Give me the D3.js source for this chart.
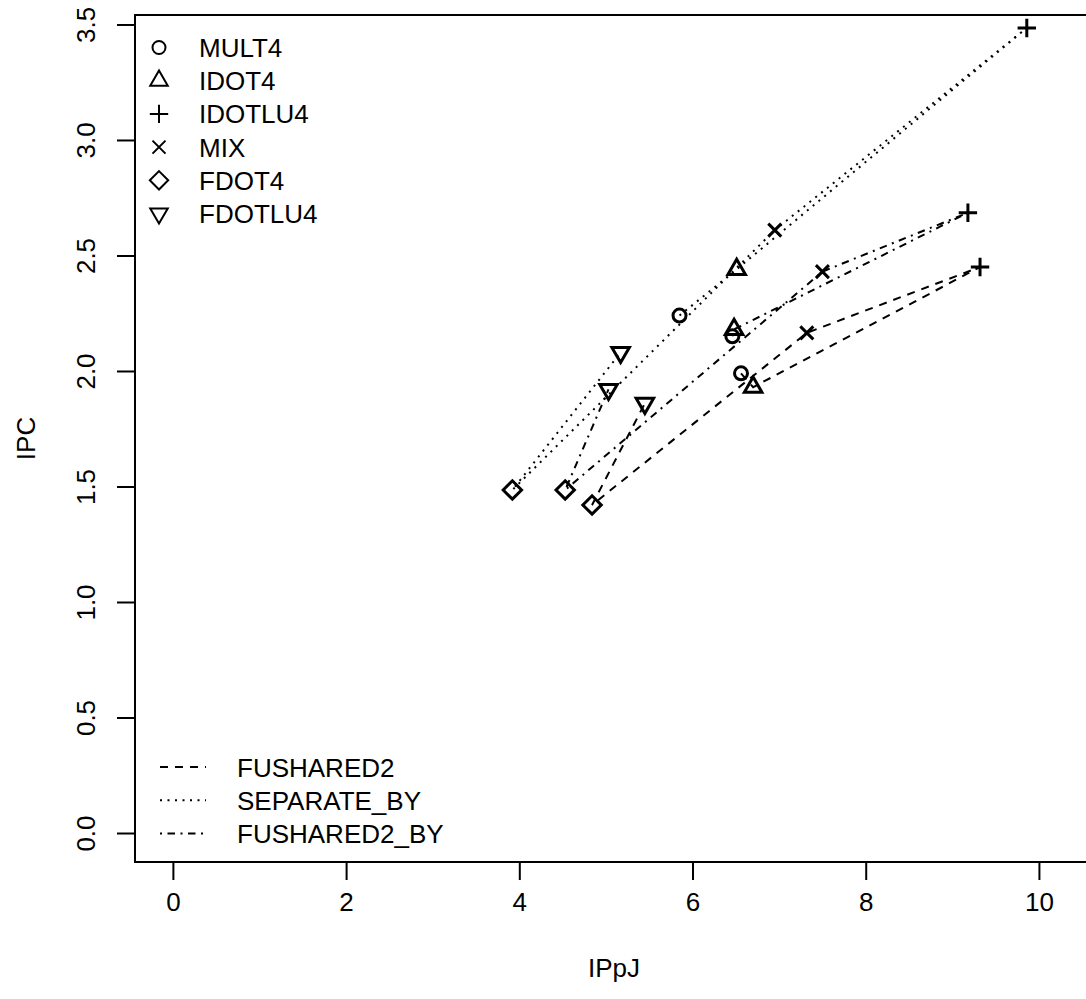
<!DOCTYPE html>
<html>
<head>
<meta charset="utf-8">
<script src="https://cdn.jsdelivr.net/npm/d3@7"></script>
<style>
  html, body { margin: 0; padding: 0; background: #fff; }
  svg text { font-family: "Liberation Sans", Arial, Helvetica, sans-serif; fill: #000; }
</style>
</head>
<body>
<div id="chart"></div>
<script>
// benchmarks (point symbols) and configurations (line types)
const benchmarks = ["MULT4", "IDOT4", "IDOTLU4", "MIX", "FDOT4", "FDOTLU4"];
const configs = ["FUSHARED2", "SEPARATE_BY", "FUSHARED2_BY"];

// values per config, in benchmark order
const ippjFushared2 = [6.56, 6.70, 9.32, 7.32, 4.84, 5.45];
const ipcFushared2 = [1.99, 1.93, 2.45, 2.165, 1.42, 1.86];
const ippjSeparateBy = [5.85, 6.51, 9.86, 6.95, 3.92, 5.17];
const ipcSeparateBy = [2.24, 2.44, 3.485, 2.61, 1.485, 2.08];
const ippjFushared2By = [6.46, 6.48, 9.18, 7.50, 4.53, 5.03];
const ipcFushared2By = [2.15, 2.18, 2.685, 2.43, 1.485, 1.92];

const xTicks = [0, 2, 4, 6, 8, 10];
const yTicks = [0, 0.5, 1.0, 1.5, 2.0, 2.5, 3.0, 3.5];

const width = 1086, height = 999;
const box = { left: 135, top: 15, right: 1094, bottom: 862 };

const series = [
  { name: configs[0], x: ippjFushared2, y: ipcFushared2, dash: "8,7" },
  { name: configs[1], x: ippjSeparateBy, y: ipcSeparateBy, dash: "2,5.5" },
  { name: configs[2], x: ippjFushared2By, y: ipcFushared2By, dash: "2,5.5,7.5,5.5" }
];

const xScale = d3.scaleLinear().domain([-0.4375, 10.636]).range([box.left, box.right]);
const yScale = d3.scaleLinear().domain([-0.1255, 3.541]).range([box.bottom, box.top]);

const svg = d3.select("#chart")
  .append("svg")
  .attr("width", width)
  .attr("height", height);

// R style point symbols (pch 1..6)
const R0 = 6.5;
function symbolPath(i) {
  const t1 = 1.347 * R0, t2 = 0.777 * R0, t0 = 1.555 * R0, s = Math.SQRT2 * R0;
  switch (i) {
    case 0: return d3.arc()({ innerRadius: 0, outerRadius: R0, startAngle: 0, endAngle: 2 * Math.PI });
    case 1: return `M0,${-t0}L${t1},${t2}L${-t1},${t2}Z`;
    case 2: return `M${-s},0L${s},0M0,${-s}L0,${s}`;
    case 3: return `M${-R0},${-R0}L${R0},${R0}M${-R0},${R0}L${R0},${-R0}`;
    case 4: return `M0,${-s}L${s},0L0,${s}L${-s},0Z`;
    case 5: return `M0,${t0}L${t1},${-t2}L${-t1},${-t2}Z`;
  }
}

// plot box
svg.append("rect")
  .attr("x", box.left)
  .attr("y", box.top)
  .attr("width", box.right - box.left)
  .attr("height", box.bottom - box.top)
  .attr("fill", "none")
  .attr("stroke", "#000")
  .attr("stroke-width", 2);

// x axis
const xAxis = svg.append("g")
  .attr("transform", `translate(0,${box.bottom})`)
  .call(d3.axisBottom(xScale).tickValues(xTicks).tickSize(18).tickPadding(13).tickFormat(d3.format("d")));
xAxis.select(".domain").attr("d", `M${xScale(0)},0H${xScale(10)}`).attr("stroke-width", 2);
xAxis.selectAll(".tick line").attr("stroke-width", 2);
xAxis.selectAll(".tick text").attr("font-size", 26).attr("dy", "0.71em");

// y axis
const yAxis = svg.append("g")
  .attr("transform", `translate(${box.left},0)`)
  .call(d3.axisLeft(yScale).tickValues(yTicks).tickSize(18).tickFormat(d3.format(".1f")));
yAxis.select(".domain").attr("d", `M0,${yScale(0)}V${yScale(3.5)}`).attr("stroke-width", 2);
yAxis.selectAll(".tick line").attr("stroke-width", 2);
yAxis.selectAll(".tick text")
  .attr("font-size", 26)
  .attr("x", null).attr("dy", null)
  .attr("text-anchor", "middle")
  .attr("transform", "translate(-40.5,0) rotate(-90)");

// axis titles
svg.append("text")
  .attr("x", 614)
  .attr("y", 977)
  .attr("text-anchor", "middle")
  .attr("font-size", 26)
  .text("IPpJ");

svg.append("text")
  .attr("transform", `translate(34.5,${(box.top + box.bottom) / 2}) rotate(-90)`)
  .attr("text-anchor", "middle")
  .attr("font-size", 26)
  .text("IPC");

// lines
const line = d3.line().x((d) => xScale(d[0])).y((d) => yScale(d[1]));
series.forEach((s) => {
  svg.append("path")
    .datum(s.x.map((v, i) => [v, s.y[i]]))
    .attr("d", line)
    .attr("fill", "none")
    .attr("stroke", "#000")
    .attr("stroke-width", 2)
    .attr("stroke-dasharray", s.dash);
});

// points
series.forEach((s) => {
  svg.selectAll(null)
    .data(s.x.map((v, i) => ({ x: v, y: s.y[i], k: i })))
    .enter()
    .append("path")
    .attr("transform", (d) => `translate(${xScale(d.x)},${yScale(d.y)})`)
    .attr("d", (d) => symbolPath(d.k))
    .attr("fill", "none")
    .attr("stroke", "#000")
    .attr("stroke-width", 3);
});

// legend: benchmarks
const legTop = 47.5, legStep = 33.2;
benchmarks.forEach((b, i) => {
  const y = legTop + i * legStep;
  svg.append("path")
    .attr("transform", `translate(159,${y})`)
    .attr("d", symbolPath(i))
    .attr("fill", "none")
    .attr("stroke", "#000")
    .attr("stroke-width", 2);
  svg.append("text")
    .attr("x", 199)
    .attr("y", y + 9.5)
    .attr("font-size", 26)
    .text(b);
});

// legend: configurations
const leg2Top = 767;
series.forEach((s, i) => {
  const y = leg2Top + i * legStep;
  svg.append("line")
    .attr("x1", 160).attr("x2", 206)
    .attr("y1", y).attr("y2", y)
    .attr("stroke", "#000")
    .attr("stroke-width", 2)
    .attr("stroke-dasharray", s.dash);
  svg.append("text")
    .attr("x", 237)
    .attr("y", y + 9.5)
    .attr("font-size", 26)
    .text(s.name);
});
</script>
</body>
</html>
